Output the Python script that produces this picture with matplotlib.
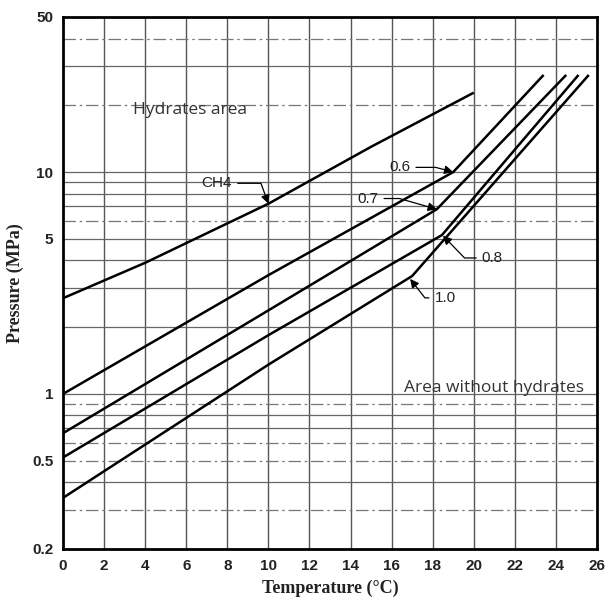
import matplotlib
matplotlib.use("Agg")
import matplotlib.pyplot as plt
from matplotlib.ticker import FixedLocator, NullFormatter, NullLocator

# ---- data ----
T_ch4 = [0, 4, 10, 15, 20]
P_ch4 = [2.7, 3.9, 7.2, 13.0, 22.8]

T_06 = [0, 10, 19.0, 23.4]
P_06 = [1.0, 3.43, 10.0, 27.4]

T_07 = [0, 10, 18.2, 24.5]
P_07 = [0.665, 2.38, 6.8, 27.4]

T_08 = [0, 10, 18.45, 25.1]
P_08 = [0.517, 1.84, 5.2, 27.4]

T_10 = [0, 10, 17.0, 25.6]
P_10 = [0.34, 1.355, 3.4, 27.4]

x_ticks = [0, 2, 4, 6, 8, 10, 12, 14, 16, 18, 20, 22, 24, 26]
y_ticks = [0.2, 0.5, 1, 5, 10, 50]
y_tick_labels = ["0.2", "0.5", "1", "5", "10", "50"]
h_grid_solid = [0.4, 0.7, 0.8, 1, 2, 3, 4, 5, 7, 8, 9, 10, 30]
h_grid_dashed = [0.3, 0.5, 0.6, 0.9, 6, 20, 40]

fig = plt.figure(figsize=(6.09, 6.16), dpi=100)
ax = fig.add_axes([63/609, 1-549/616, (597-63)/609, (549-17)/616])
ax.set_yscale("log")
ax.set_xlim(0, 26)
ax.set_ylim(0.2, 50)

# grid
for xv in x_ticks[1:-1]:
    ax.axvline(xv, color="#555555", lw=1.0, zorder=1)
for yv in h_grid_solid:
    ax.axhline(yv, color="#666666", lw=0.9, zorder=1)
for yv in h_grid_dashed:
    ax.axhline(yv, color="#777777", lw=0.9, ls=(0, (10, 3, 2, 3)), zorder=1)

# curves
for T, P in [(T_ch4, P_ch4), (T_06, P_06), (T_07, P_07), (T_08, P_08), (T_10, P_10)]:
    ax.plot(T, P, color="black", lw=1.8, zorder=3, solid_capstyle="butt")

# ticks
ax.yaxis.set_major_locator(FixedLocator(y_ticks))
ax.yaxis.set_minor_locator(NullLocator())
ax.yaxis.set_minor_formatter(NullFormatter())
ax.set_yticklabels(y_tick_labels)
ax.set_xticks(x_ticks)
ax.tick_params(axis="both", length=0, pad=7, labelsize=11, labelcolor="#222222")
for lab in ax.get_xticklabels() + ax.get_yticklabels():
    lab.set_fontfamily("Liberation Sans")
    lab.set_fontweight("bold")

for s in ax.spines.values():
    s.set_linewidth(2.0)
    s.set_color("black")

ax.set_xlabel("Temperature (\u00b0C)", family="Liberation Serif", fontweight="bold",
              fontsize=13, color="#222222", labelpad=5)
ax.set_ylabel("Pressure (MPa)", family="Liberation Serif", fontweight="bold",
              fontsize=13, color="#222222", labelpad=6)

# region texts
ax.text(6.2, 19.0, "Hydrates area", family="Open Sans", fontsize=12.5,
        color="#333333", ha="center", va="center")
ax.text(21.0, 1.06, "Area without hydrates", family="Open Sans", fontsize=12.5,
        color="#333333", ha="center", va="center")

# curve labels with leaders
arrow_kw = dict(arrowstyle="-|>", color="black", lw=0.9, mutation_scale=13,
                shrinkA=2, shrinkB=0)
lab_kw = dict(family="Liberation Sans", fontsize=11, color="#222222", va="center")

ax.annotate("CH4", xy=(10.0, 7.2), xytext=(6.75, 8.9), ha="left",
            arrowprops=dict(connectionstyle="angle,angleA=0,angleB=110,rad=0", **arrow_kw),
            **lab_kw)
ax.annotate("0.6", xy=(19.0, 10.0), xytext=(16.4, 10.5), ha="center",
            arrowprops=dict(connectionstyle="angle,angleA=0,angleB=-15,rad=0", **arrow_kw),
            **lab_kw)
ax.annotate("0.7", xy=(18.2, 6.8), xytext=(14.85, 7.6), ha="center",
            arrowprops=dict(connectionstyle="angle,angleA=0,angleB=-16,rad=0", **arrow_kw),
            **lab_kw)
ax.annotate("0.8", xy=(18.5, 5.17), xytext=(20.9, 4.1), ha="center",
            arrowprops=dict(connectionstyle="angle,angleA=0,angleB=-46,rad=0", **arrow_kw),
            **lab_kw)
ax.annotate("1.0", xy=(16.9, 3.3), xytext=(18.6, 2.71), ha="center",
            arrowprops=dict(connectionstyle="angle,angleA=0,angleB=128,rad=0", **arrow_kw),
            **lab_kw)

fig.savefig("out.png", dpi=100)
